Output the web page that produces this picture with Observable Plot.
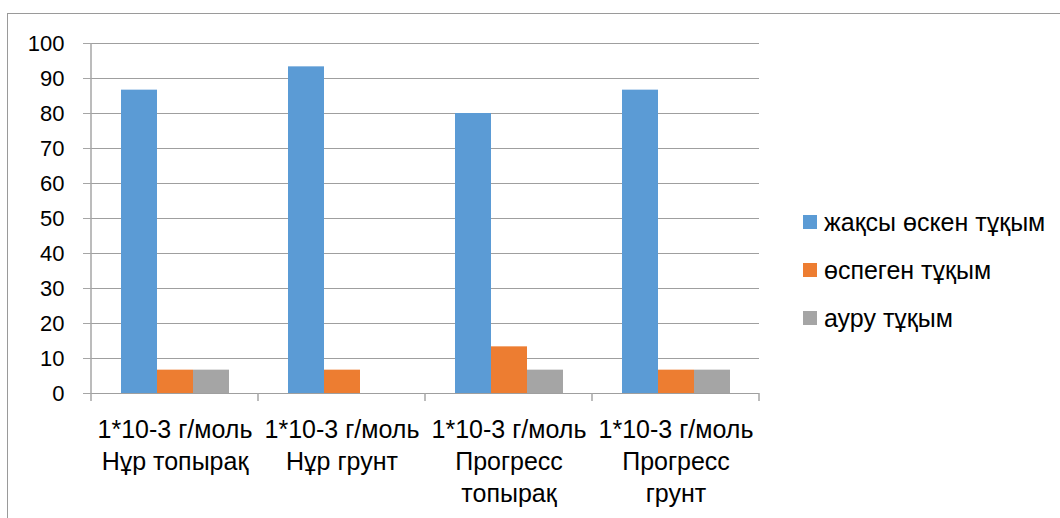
<!DOCTYPE html>
<html>
<head>
<meta charset="utf-8">
<script src="https://cdn.jsdelivr.net/npm/d3@7"></script>
<script src="https://cdn.jsdelivr.net/npm/@observablehq/plot@0.6"></script>
<style>
  html, body { margin: 0; padding: 0; background: #fff; }
  #wrap { position: relative; width: 1060px; height: 518px; overflow: hidden; font-family: "Liberation Sans", Arial, sans-serif; }
  #wrap svg { position: absolute; left: 0; top: 0; }
  #frame { position: absolute; left: 7px; top: 13px; right: -2px; bottom: -2px; border-left: 1px solid #9a9a9a; border-top: 1px solid #9a9a9a; pointer-events: none; }
  #legend { position: absolute; left: 803px; top: 198px; }
  .row { display: flex; align-items: center; height: 48px; font-size: 25px; color: #000; white-space: nowrap; }
  .sw { width: 14px; height: 14px; margin-right: 7px; flex: none; }
</style>
</head>
<body>
<div id="wrap"></div>
<script>
// Seed germination outcomes (%) per treatment
const categories = [
  "1*10-3 г/моль\nНұр топырақ",
  "1*10-3 г/моль\nНұр грунт",
  "1*10-3 г/моль\nПрогресс\nтопырақ",
  "1*10-3 г/моль\nПрогресс\nгрунт"
];
const series = ["жақсы өскен тұқым", "өспеген тұқым", "ауру тұқым"];
const goodSeeds = [86.67, 93.33, 80, 86.67];
const notGrownSeeds = [6.67, 6.67, 13.33, 6.67];
const sickSeeds = [6.67, 0, 6.67, 6.67];
const yTicks = [0, 10, 20, 30, 40, 50, 60, 70, 80, 90, 100];
const palette = ["#5b9bd5", "#ed7d31", "#a5a5a5"];

const valuesBySeries = [goodSeeds, notGrownSeeds, sickSeeds];
const rows = categories.flatMap((category, i) =>
  series.map((s, j) => ({category, series: s, value: valuesBySeries[j][i]}))
);

const axisColor = "#a6a6a6";

const chart = Plot.plot({
  width: 1060,
  height: 518,
  marginLeft: 89,
  marginRight: 300,
  marginTop: 43,
  marginBottom: 125,
  style: {fontFamily: "'Liberation Sans', Arial, sans-serif", background: "transparent", color: "#000", overflow: "visible"},
  fx: {domain: categories, padding: 0, label: null, axis: null},
  x: {domain: series, paddingInner: 0, paddingOuter: 0.76, axis: null},
  y: {domain: [0, 100], label: null, axis: null},
  color: {domain: series, range: palette},
  marks: [
    Plot.gridY(yTicks, {stroke: "#9f9f9f", strokeOpacity: 1, strokeWidth: 1}),
    Plot.barY(rows.filter(d => d.value > 0), {fx: "category", x: "series", y: "value", fill: "series"}),
    Plot.axisY(yTicks, {tickSize: 8, tickPadding: 19, fontSize: 22, stroke: axisColor, fill: "#000"}),
    Plot.axisFx({anchor: "bottom", tickSize: 0, tickPadding: 22, fontSize: 25, lineHeight: 1.27, label: null, fill: "#000"})
  ]
});

// Axis line and category separator ticks drawn from the plot's scales
const fx = chart.scale("fx");
const y = chart.scale("y");
const y0 = y.apply(0);
const edges = categories.map(c => fx.apply(c)).concat([fx.apply(categories[categories.length - 1]) + fx.bandwidth]);
const g = d3.select(chart).append("g").attr("stroke", axisColor).attr("stroke-width", 1.5);
g.append("line")
  .attr("x1", edges[0]).attr("x2", edges[0])
  .attr("y1", y.apply(100)).attr("y2", y0 + 8);
g.selectAll(".sep").data(edges.slice(1)).join("line")
  .attr("x1", d => d).attr("x2", d => d)
  .attr("y1", y0).attr("y2", y0 + 8);

const wrap = document.getElementById("wrap");
wrap.appendChild(chart);
const frame = document.createElement("div");
frame.id = "frame";
wrap.appendChild(frame);

// Legend on the right
const legend = d3.select(wrap).append("div").attr("id", "legend");
const item = legend.selectAll(".row").data(series).join("div").attr("class", "row");
item.append("span").attr("class", "sw").style("background", (d, i) => palette[i]);
item.append("span").text(d => d);
</script>
</body>
</html>
